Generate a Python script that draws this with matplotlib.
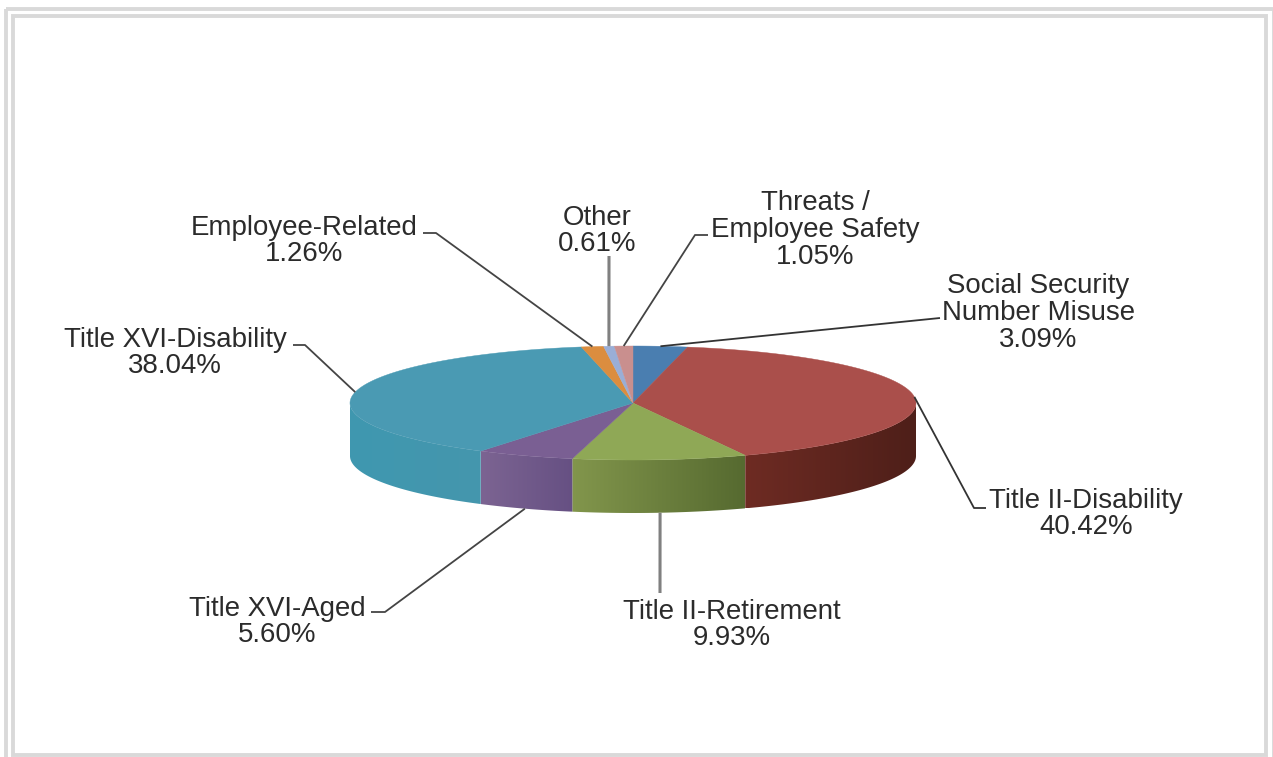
import numpy as np
import matplotlib
matplotlib.use('Agg')
import matplotlib.pyplot as plt
from matplotlib.colors import to_rgb
from matplotlib.patches import Polygon, Rectangle

plt.rcParams['font.family'] = ['Liberation Sans', 'DejaVu Sans']

# clockwise from 12 o'clock
categories = ['Social Security\nNumber Misuse', 'Title II-Disability', 'Title II-Retirement',
              'Title XVI-Aged', 'Title XVI-Disability', 'Employee-Related', 'Other',
              'Threats /\nEmployee Safety']
values = [3.09, 40.42, 9.93, 5.60, 38.04, 1.26, 0.61, 1.05]

top_colors = ['#4a7eb0', '#aa4f4b', '#8fa856', '#7a5f93', '#4a9ab3', '#db8d3f', '#9aaed6', '#c98f8e']
side_left = ['#3b6590', '#6e2b23', '#82964c', '#7c6492', '#3f98b0', '#b87530', '#8090b0', '#a87574']
side_right = ['#3b6590', '#4e1f19', '#566a30', '#665083', '#4596ad', '#b87530', '#8090b0', '#a87574']

# label centre, elbow, end of the elbow tail, leader colour
label_pos = [(1038, 313), (1086, 514), (732, 625), (277, 622), (175, 353), (304, 241), (597, 231), (815, 230)]
elbows = [None, (974, 508), None, (385, 612), (305, 345), (436, 233), None, (695, 235)]
tails = [(940, 318), (986, 508), (660, 593), (371, 612), (293, 345), (423, 233), (609, 256), (708, 235)]
leader_colors = ['#333333', '#333333', '#808080', '#444444', '#444444', '#444444', '#808080', '#444444']
leader_widths = [1.3, 1.3, 2.2, 1.3, 1.3, 1.3, 2.2, 1.3]

cx, cy = 633, 403
rx, ry = 283, 57
depth = 53


def rim(angle, drop=0):
    # angle in degrees clockwise from the top, y axis points down
    a = np.radians(angle)
    return cx + rx * np.sin(a), cy - ry * np.cos(a) + drop


fig = plt.figure(figsize=(12.73, 7.57), dpi=100)
ax = fig.add_axes([0, 0, 1, 1])
ax.axis('off')

# double grey frame of the screenshot
for x0, y0, x1, y1 in [(5.7, 9, 1273.5, 770), (13, 16, 1265.5, 755)]:
    ax.add_patch(Rectangle((x0, y0), x1 - x0, y1 - y0, fill=False, ec='#d9d9d9', lw=2.8))

edges = np.concatenate([[0], np.cumsum(values)]) / np.sum(values) * 360
mids = (edges[:-1] + edges[1:]) / 2

# side wall, only the front half shows
for i in range(len(values)):
    a0, a1 = max(edges[i], 90), min(edges[i + 1], 270)
    if a1 <= a0:
        continue
    steps = np.linspace(a0, a1, 200)
    x, y = rim(steps)
    outline = np.c_[np.r_[x, x[::-1]], np.r_[y, y[::-1] + depth]]
    clip = Polygon(outline, closed=True, transform=ax.transData, fc='none', ec='none')
    ax.add_patch(clip)
    c_l, c_r = np.array(to_rgb(side_left[i])), np.array(to_rgb(side_right[i]))
    t = np.linspace(0, 1, 256)[:, None]
    grad = (c_l + (c_r - c_l) * t)[None, :, :]
    im = ax.imshow(grad, extent=[x.min(), x.max(), y.max() + depth, y.min()],
                   aspect='auto', interpolation='bilinear', zorder=1)
    im.set_clip_path(clip)

# top of the pie
for i in range(len(values)):
    steps = np.linspace(edges[i], edges[i + 1], 200)
    x, y = rim(steps)
    ax.fill(np.r_[cx, x], np.r_[cy, y], color=top_colors[i], lw=0.3, zorder=2)

# leader lines
for i in range(len(values)):
    drop = depth if 90 < mids[i] < 270 and i != 4 else 0
    start = rim(mids[i], drop)
    pts = [start] + ([elbows[i]] if elbows[i] else []) + [tails[i]]
    ax.plot([p[0] for p in pts], [p[1] for p in pts], color=leader_colors[i],
            lw=leader_widths[i], solid_capstyle='butt', zorder=3)

# labels
for i in range(len(values)):
    ax.text(label_pos[i][0], label_pos[i][1], f'{categories[i]}\n{values[i]:.2f}%',
            ha='center', va='center', fontsize=19.9, color='#2b2b2b', linespacing=1.03)

ax.set_xlim(0, 1273)
ax.set_ylim(757, 0)

fig.savefig('out.png', dpi=100)
